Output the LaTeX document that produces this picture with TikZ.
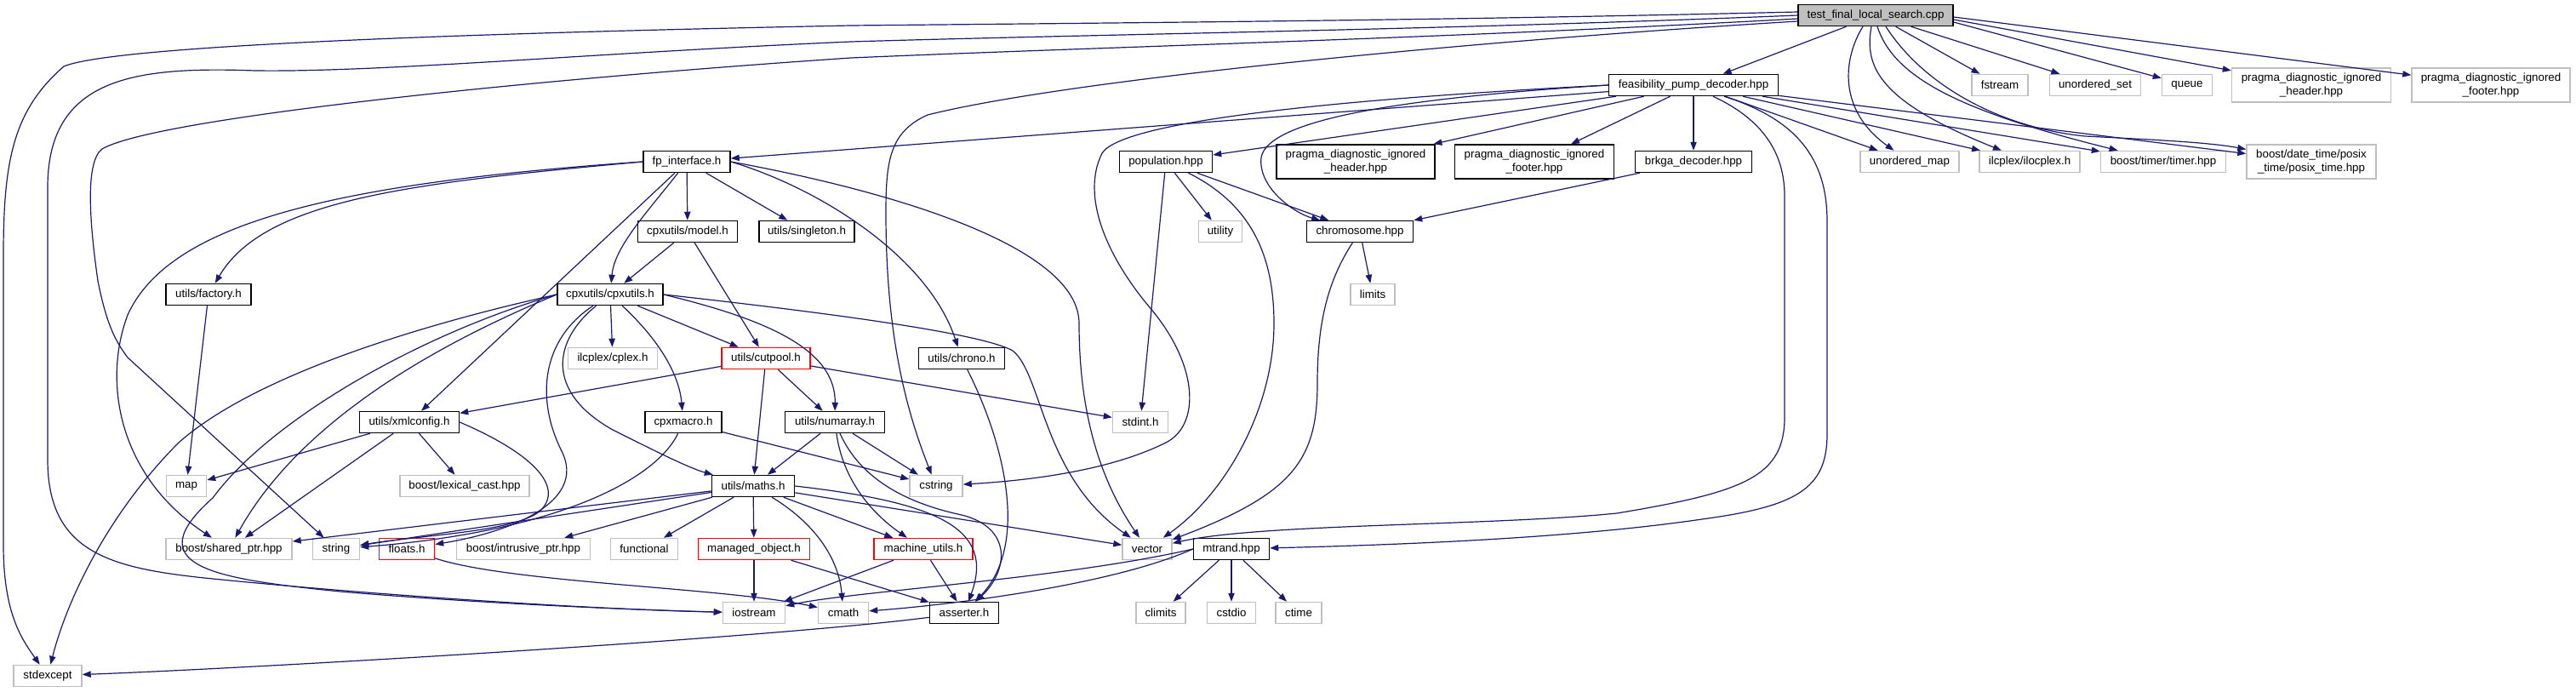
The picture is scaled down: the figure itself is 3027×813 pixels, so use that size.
\documentclass[tikz,border=0pt]{standalone}
\usepackage{fontspec}
\setmainfont{Liberation Sans}
\usetikzlibrary{arrows.meta,calc}
\definecolor{edgeblue}{HTML}{191970}
\definecolor{boxgray}{HTML}{BFBFBF}
\begin{document}
\begin{tikzpicture}[x=0.75pt,y=-0.75pt,
  font=\fontsize{10}{11.5}\selectfont,
  nd/.style={draw, rectangle, inner sep=1pt, align=center, line width=1.1pt, minimum height=18.75pt, fill=white},
  doc/.style={nd, draw=black},
  ext/.style={nd, draw=boxgray},
  trunc/.style={nd, draw=red},
  root/.style={nd, draw=black, fill=boxgray},
  wd/.style={minimum width=#1*0.75pt},
  tall/.style={minimum height=30pt},
  dep/.style={draw=edgeblue, line width=0.9pt, -{Triangle[length=7.5pt,width=5.5pt]}}]
\useasboundingbox (0,0) rectangle (3027,813);

% ---------- nodes ----------
\node[root,wd=182] (T) at (2204,18) {test\_final\_local\_search.cpp};
\node[doc,wd=199] (F) at (1990,100) {feasibility\_pump\_decoder.hpp};
\node[ext,wd=66] (fstream) at (2350,100) {fstream};
\node[ext,wd=107] (uset) at (2462,100) {unordered\_set};
\node[ext,wd=59] (queue) at (2570,100) {queue};
\node[ext,wd=187,tall] (pgh) at (2716,100) {pragma\_diagnostic\_ignored\\\_header.hpp};
\node[ext,wd=186,tall] (pgf) at (2927,100) {pragma\_diagnostic\_ignored\\\_footer.hpp};
\node[doc,wd=102] (fpi) at (807,190) {fp\_interface.h};
\node[doc,wd=109] (pop) at (1370,190) {population.hpp};
\node[doc,wd=186,tall] (dph) at (1593,190) {pragma\_diagnostic\_ignored\\\_header.hpp};
\node[doc,wd=187,tall] (dpf) at (1803,190) {pragma\_diagnostic\_ignored\\\_footer.hpp};
\node[doc,wd=137] (brkga) at (1990,190) {brkga\_decoder.hpp};
\node[ext,wd=116] (umap) at (2244,190) {unordered\_map};
\node[ext,wd=118] (ilo) at (2385,190) {ilcplex/ilocplex.h};
\node[ext,wd=147] (timer) at (2542,190) {boost/timer/timer.hpp};
\node[ext,wd=152,tall] (posix) at (2716,190) {boost/date\_time/posix\\\_time/posix\_time.hpp};
\node[doc,wd=117] (model) at (808,272) {cpxutils/model.h};
\node[doc,wd=112] (single) at (948,272) {utils/singleton.h};
\node[ext,wd=51] (utility) at (1434,272) {utility};
\node[doc,wd=125] (chromo) at (1598,272) {chromosome.hpp};
\node[doc,wd=100] (factory) at (245,346) {utils/factory.h};
\node[doc,wd=124] (cpxu) at (717,346) {cpxutils/cpxutils.h};
\node[ext,wd=52] (limits) at (1613,346) {limits};
\node[ext,wd=105] (cplex) at (720,421) {ilcplex/cplex.h};
\node[trunc,wd=104] (cutpool) at (900,421) {utils/cutpool.h};
\node[doc,wd=101] (chrono) at (1130,421) {utils/chrono.h};
\node[doc,wd=117] (xml) at (481,496) {utils/xmlconfig.h};
\node[doc,wd=90] (cpxmacro) at (803,496) {cpxmacro.h};
\node[doc,wd=117] (numarray) at (981,496) {utils/numarray.h};
\node[ext,wd=65] (stdint) at (1340,496) {stdint.h};
\node[ext,wd=47] (map) at (219,571) {map};
\node[ext,wd=152] (lexcast) at (546,571) {boost/lexical\_cast.hpp};
\node[doc,wd=97] (maths) at (885,571) {utils/maths.h};
\node[ext,wd=62] (cstring) at (1100,571) {cstring};
\node[ext,wd=148] (sptr) at (269,645) {boost/shared\_ptr.hpp};
\node[ext,wd=55] (string) at (395,645) {string};
\node[trunc,wd=65] (floats) at (478,645) {floats.h};
\node[ext,wd=157] (iptr) at (615,645) {boost/intrusive\_ptr.hpp};
\node[ext,wd=79] (functional) at (757,645) {functional};
\node[trunc,wd=131] (mobj) at (886,645) {managed\_object.h};
\node[trunc,wd=116] (mutils) at (1085,645) {machine\_utils.h};
\node[ext,wd=58] (vector) at (1348,645) {vector};
\node[doc,wd=89] (mtrand) at (1447,645) {mtrand.hpp};
\node[ext,wd=73] (iostream) at (886,720) {iostream};
\node[ext,wd=59] (cmath) at (991,720) {cmath};
\node[doc,wd=81] (asserter) at (1133,720) {asserter.h};
\node[ext,wd=58] (climits) at (1364,720) {climits};
\node[ext,wd=57] (cstdio) at (1447,720) {cstdio};
\node[ext,wd=54] (ctime) at (1526,720) {ctime};
\node[ext,wd=80] (stdexcept) at (56,794) {stdexcept};

% ---------- edges from test_final_local_search.cpp ----------
\draw[dep] ($(T.west)+(0,-4)$) .. controls (1700,24) and (1300,27) .. (1000,30) .. controls (500,40) and (130,55) .. (75,78) .. controls (15,130) and (4,190) .. (4,300) -- (4,640) .. controls (4,720) and (25,750) .. (stdexcept);
\draw[dep] (T.west) .. controls (1700,35) and (1300,40) .. (1000,49) .. controls (700,62) and (450,85) .. (300,83) .. controls (160,78) and (56,90) .. (56,220) -- (56,540) .. controls (56,650) and (130,668) .. (250,680) .. controls (450,700) and (700,716) .. (iostream);
\draw[dep] ($(T.west)+(0,4)$) .. controls (1700,45) and (1300,55) .. (1000,68) .. controls (600,95) and (180,140) .. (120,175) .. controls (100,190) and (105,260) .. (115,330) .. controls (125,380) and (135,400) .. (150,420) -- (string);
\draw[dep] ($(T.west)+(0,7)$) .. controls (1700,50) and (1250,95) .. (1090,135) .. controls (1045,155) and (1041,190) .. (1041,250) .. controls (1041,380) and (1060,470) .. (cstring);
\draw[dep] (T) -- (F);
\draw[dep] ($(T.south)+(-15,0)$) .. controls (2165,70) and (2160,130) .. (umap);
\draw[dep] ($(T.south)+(-5,0)$) .. controls (2190,80) and (2210,120) .. (ilo);
\draw[dep] ($(T.south)+(2,0)$) .. controls (2225,90) and (2300,130) .. (timer);
\draw[dep] ($(T.south)+(12,0)$) .. controls (2260,100) and (2350,150) .. (2450,160) .. controls (2550,165) and (2600,168) .. (posix);
\draw[dep] (T) -- (fstream);
\draw[dep] (T) -- (uset);
\draw[dep] ($(T.east)+(0,8)$) -- (queue);
\draw[dep] ($(T.east)+(0,5)$) -- (pgh);
\draw[dep] ($(T.east)+(0,2)$) -- (pgf);

% ---------- feasibility_pump_decoder.hpp ----------
\draw[dep] (F) -- (fpi);
\draw[dep] (F.west) .. controls (1600,115) and (1320,140) .. (1295,180) .. controls (1270,230) and (1300,300) .. (1350,360) .. controls (1410,430) and (1410,500) .. (1370,520) .. controls (1300,555) and (1200,565) .. (cstring);
\draw[dep] (F) -- (pop);
\draw[dep] (F.west) .. controls (1650,115) and (1490,140) .. (1482,185) .. controls (1478,220) and (1520,250) .. (chromo);
\draw[dep] (F) -- (dph);
\draw[dep] (F) -- (dpf);
\draw[dep] (F) -- (brkga);
\draw[dep] (F) -- (umap);
\draw[dep] (F) -- (ilo);
\draw[dep] (F) -- (timer);
\draw[dep] (F) -- (posix);
\draw[dep] ($(F.south)+(23,0)$) .. controls (2060,135) and (2097,170) .. (2097,230) -- (2097,490) .. controls (2097,560) and (2050,578) .. (1900,603) .. controls (1750,618) and (1480,615) .. (vector);
\draw[dep] ($(F.south)+(36,0)$) .. controls (2110,140) and (2147,185) .. (2147,260) -- (2147,510) .. controls (2147,575) and (2110,595) .. (2000,610) .. controls (1850,632) and (1650,640) .. (mtrand);

% ---------- fp_interface.h ----------
\draw[dep] (fpi.west) .. controls (480,215) and (310,235) .. (factory);
\draw[dep] (fpi.west) .. controls (400,215) and (200,260) .. (150,370) .. controls (120,450) and (140,560) .. (sptr);
\draw[dep] (fpi) .. controls (760,250) and (722,290) .. (cpxu);
\draw[dep] (fpi) -- (xml);
\draw[dep] (fpi) -- (model);
\draw[dep] (fpi) -- (single);
\draw[dep] (fpi.east) .. controls (960,220) and (1090,300) .. (chrono);
\draw[dep] (fpi.east) .. controls (1050,225) and (1268,290) .. (1268,380) .. controls (1268,480) and (1290,560) .. (vector);

% ---------- cpxutils/model.h ----------
\draw[dep] (model) -- (cpxu);
\draw[dep] (model) -- (cutpool);

% ---------- cpxutils/cpxutils.h ----------
\draw[dep] (cpxu) -- (cplex);
\draw[dep] (cpxu) -- (cutpool);
\draw[dep] (cpxu) .. controls (775,400) and (798,440) .. (cpxmacro);
\draw[dep] (cpxu.east) .. controls (900,375) and (982,410) .. (numarray);
\draw[dep] (cpxu.east) .. controls (950,365) and (1150,390) .. (1190,412) .. controls (1225,440) and (1225,560) .. (vector);
\draw[dep] (cpxu) .. controls (650,400) and (640,460) .. (720,505) .. controls (770,530) and (810,550) .. (maths);
\draw[dep] (cpxu) .. controls (635,400) and (630,470) .. (660,530) .. controls (690,590) and (600,625) .. (floats);
\draw[dep] (cpxu.west) .. controls (500,380) and (300,440) .. (210,520) .. controls (130,600) and (80,700) .. (stdexcept);
\draw[dep] (cpxu.west) .. controls (500,390) and (320,490) .. (250,585) .. controls (160,665) and (250,680) .. (400,695) .. controls (600,712) and (800,718) .. (iostream);
\draw[dep] (cpxu.west) .. controls (500,410) and (350,500) .. (sptr);

% ---------- utils/cutpool.h ----------
\draw[dep] (cutpool) -- (xml);
\draw[dep] (cutpool) -- (maths);
\draw[dep] (cutpool) -- (numarray);
\draw[dep] (cutpool) -- (stdint);

% ---------- utils/xmlconfig.h, factory ----------
\draw[dep] (xml) -- (map);
\draw[dep] (xml) -- (lexcast);
\draw[dep] (xml) -- (sptr);
\draw[dep] (xml.east) .. controls (620,530) and (665,570) .. (635,600) .. controls (605,625) and (500,628) .. (string);
\draw[dep] (factory) -- (map);

% ---------- cpxmacro.h ----------
\draw[dep] (cpxmacro) .. controls (770,565) and (650,625) .. (string);
\draw[dep] (cpxmacro) -- (cstring);

% ---------- utils/numarray.h ----------
\draw[dep] (numarray) -- (maths);
\draw[dep] (numarray) -- (cstring);
\draw[dep] (numarray) .. controls (990,560) and (1020,600) .. (mutils);
\draw[dep] (numarray) .. controls (1010,560) and (1060,590) .. (1130,605) .. controls (1190,620) and (1185,670) .. (asserter);

% ---------- utils/maths.h ----------
\draw[dep] (maths) -- (sptr);
\draw[dep] (maths) -- (string);
\draw[dep] (maths) -- (iptr);
\draw[dep] (maths) -- (functional);
\draw[dep] (maths) -- (mobj);
\draw[dep] (maths) -- (mutils);
\draw[dep] (maths) -- (vector);
\draw[dep] (maths) .. controls (950,610) and (985,650) .. (cmath);
\draw[dep] (maths.east) .. controls (1100,590) and (1170,620) .. (asserter);

% ---------- lower nodes ----------
\draw[dep] (mobj) -- (iostream);
\draw[dep] (mobj) -- (asserter);
\draw[dep] (mutils) -- (iostream);
\draw[dep] (mutils) -- (asserter);
\draw[dep] (floats) .. controls (600,685) and (850,690) .. (cmath);
\draw[dep] (chrono) .. controls (1180,520) and (1210,640) .. (asserter);
\draw[dep] (asserter) .. controls (900,750) and (300,785) .. (stdexcept);
\draw[dep] (mtrand.west) .. controls (1250,680) and (1000,695) .. (iostream);
\draw[dep] (mtrand.west) .. controls (1300,690) and (1100,712) .. (cmath);
\draw[dep] (mtrand) -- (climits);
\draw[dep] (mtrand) -- (cstdio);
\draw[dep] (mtrand) -- (ctime);

% ---------- population / chromosome / brkga ----------
\draw[dep] (pop) -- (stdint);
\draw[dep] (pop) -- (utility);
\draw[dep] (pop) -- (chromo);
\draw[dep] (pop) .. controls (1470,240) and (1497,300) .. (1497,380) .. controls (1497,480) and (1440,580) .. (vector);
\draw[dep] (chromo) -- (limits);
\draw[dep] (chromo) .. controls (1560,330) and (1548,380) .. (1548,450) .. controls (1548,540) and (1520,580) .. (vector);
\draw[dep] (brkga) -- (chromo);
\end{tikzpicture}
\end{document}
